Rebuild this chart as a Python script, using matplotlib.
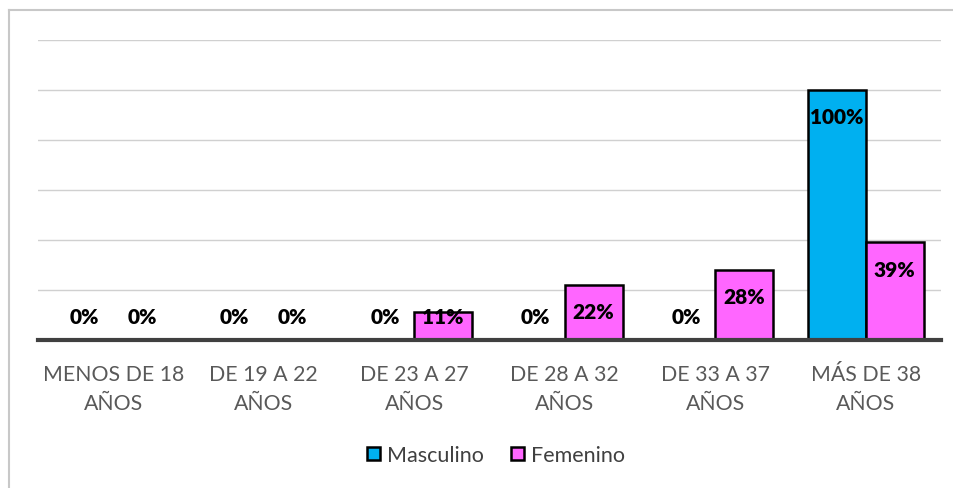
import numpy as np
import matplotlib.pyplot as plt
from matplotlib.patches import Rectangle
from matplotlib.lines import Line2D

categorias = ['MENOS DE 18\nAÑOS', 'DE 19 A 22\nAÑOS', 'DE 23 A 27\nAÑOS',
              'DE 28 A 32\nAÑOS', 'DE 33 A 37\nAÑOS', 'MÁS DE 38\nAÑOS']
masculino = [0, 0, 0, 0, 0, 100]
femenino = [0, 0, 11, 22, 28, 39]

plt.rcParams['font.family'] = ['Lato', 'DejaVu Sans']

fig = plt.figure(figsize=(9.54, 4.89), dpi=100)
ax = fig.add_axes([0.0398, 0.3027, 0.9465, 0.6135])

x = np.arange(len(categorias))
w = 0.385
b1 = ax.bar(x - w/2, masculino, w, color='#00b0f0', edgecolor='black', linewidth=1.8, label='Masculino', zorder=3)
b2 = ax.bar(x + w/2, femenino, w, color='#ff66ff', edgecolor='black', linewidth=1.8, label='Femenino', zorder=3)

for barras, vals in ((b1, masculino), (b2, femenino)):
    for r, v in zip(barras, vals):
        y = max(v - 10.8, 9.2)
        ax.text(r.get_x() + r.get_width()/2, y, f'{v}%', ha='center', va='center',
                fontsize=15, fontweight='heavy', color='black', zorder=4)

ax.set_xlim(-0.5, len(categorias) - 0.5)
ax.set_ylim(0, 120)
ax.set_yticks(np.arange(0, 121, 20))
ax.yaxis.grid(True, color='#d0d0d0', linewidth=1)
ax.set_axisbelow(True)
ax.tick_params(axis='y', left=False, labelleft=False)
ax.tick_params(axis='x', bottom=False, labelsize=15.3, labelcolor='#595959', pad=14)
ax.set_xticks(x)
ax.set_xticklabels(categorias, linespacing=1.55)
for s in ['top', 'right', 'left']:
    ax.spines[s].set_visible(False)
ax.spines['bottom'].set_color('#404040')
ax.spines['bottom'].set_linewidth(3)
ax.spines['bottom'].set_zorder(5)

# marco del grafico
fig.add_artist(Line2D([9/954, 9/954], [0, 1 - 11/489], color='#c8c8c8', linewidth=1.5))
fig.add_artist(Line2D([9/954, 1], [1 - 11/489, 1 - 11/489], color='#c8c8c8', linewidth=1.5))

handles = [Rectangle((0, 0), 1, 1, facecolor='#00b0f0', edgecolor='black', linewidth=1.8),
           Rectangle((0, 0), 1, 1, facecolor='#ff66ff', edgecolor='black', linewidth=1.8)]
fig.legend(handles, ['Masculino', 'Femenino'], loc='center', bbox_to_anchor=(496/954, 1 - 456/489),
           ncol=2, frameon=False, fontsize=15.5, handlelength=0.6, handleheight=0.6,
           handletextpad=0.3, columnspacing=1.3, labelcolor='#404040')

fig.savefig('out.png', dpi=100)
